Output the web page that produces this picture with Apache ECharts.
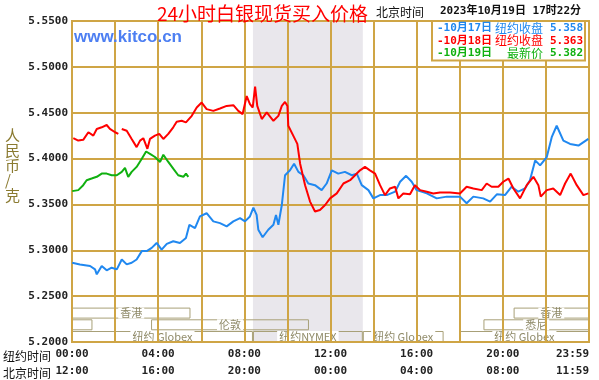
<!DOCTYPE html>
<html><head><meta charset="utf-8">
<script src="https://cdn.jsdelivr.net/npm/echarts@6/dist/echarts.min.js"></script>
<style>html,body{margin:0;padding:0;background:#fff}#c{width:599px;height:380px}</style>
</head><body><div id="c"></div>
<script>
// ---- data (hour of New York day, price CNY/gram) ----
const seriesNames = ['10月17日', '10月18日', '10月19日'];
const legendLabels = [['-10月17日', '纽约收盘', '5.358'], ['-10月18日', '纽约收盘', '5.363'], ['-10月19日', '最新价', '5.382']];
const silverOct17 = [[0.01,5.2864],[0.37,5.2846],[0.84,5.2829],[1.07,5.2792],[1.15,5.2738],[1.38,5.2829],[1.61,5.2781],[1.84,5.281],[2.08,5.2792],[2.31,5.29],[2.54,5.2846],[2.77,5.2864],[3.0,5.29],[3.24,5.2991],[3.47,5.2991],[3.7,5.3026],[3.93,5.308],[4.16,5.3008],[4.4,5.307],[4.7,5.3099],[5.01,5.308],[5.29,5.3134],[5.45,5.3278],[5.71,5.3242],[5.94,5.3369],[6.25,5.3404],[6.56,5.3315],[6.87,5.3296],[7.18,5.3261],[7.49,5.3315],[7.8,5.335],[8.03,5.3315],[8.26,5.3369],[8.42,5.3466],[8.57,5.3386],[8.65,5.3224],[8.85,5.3142],[9.11,5.3224],[9.35,5.3278],[9.47,5.3386],[9.58,5.3278],[9.74,5.3494],[9.89,5.3818],[10.12,5.3872],[10.31,5.3944],[10.51,5.3855],[10.74,5.3818],[10.97,5.3728],[11.28,5.371],[11.59,5.3656],[11.82,5.3728],[12.06,5.3872],[12.36,5.3836],[12.67,5.3855],[12.99,5.3818],[13.22,5.3836],[13.45,5.371],[13.76,5.3656],[13.99,5.3566],[14.3,5.3602],[14.61,5.3602],[15.0,5.3639],[15.23,5.3747],[15.51,5.3812],[15.77,5.3747],[16.0,5.3656],[16.47,5.362],[16.93,5.3566],[17.4,5.3585],[18.01,5.3585],[18.32,5.3512],[18.63,5.3585],[19.09,5.3566],[19.41,5.3531],[19.72,5.361],[20.1,5.3602],[20.41,5.3693],[20.72,5.3639],[21.03,5.3674],[21.26,5.3764],[21.5,5.398],[21.73,5.3926],[22.04,5.4017],[22.27,5.4233],[22.5,5.4358],[22.81,5.4196],[23.12,5.416],[23.51,5.4142],[23.97,5.4214]];
const silverOct18 = [[0.06,5.4222],[0.29,5.4196],[0.52,5.4204],[0.76,5.4287],[0.99,5.425],[1.15,5.4323],[1.38,5.4341],[1.61,5.4366],[1.76,5.4323],[2.0,5.4287],[2.15,5.4269],[2.22,null],[2.31,5.4323],[2.54,5.4304],[2.77,5.4214],[3.0,5.4125],[3.16,5.4196],[3.31,5.4222],[3.5,5.4106],[3.62,5.4214],[3.85,5.425],[4.05,5.4269],[4.24,5.4214],[4.47,5.4269],[4.7,5.4341],[4.86,5.4401],[5.09,5.4412],[5.29,5.4395],[5.56,5.4466],[5.79,5.4557],[6.02,5.4611],[6.25,5.4539],[6.56,5.452],[6.87,5.4546],[7.18,5.4574],[7.49,5.4582],[7.72,5.452],[7.92,5.4485],[8.11,5.4682],[8.26,5.4593],[8.39,5.4557],[8.5,5.4784],[8.6,5.4574],[8.81,5.4431],[9.04,5.4503],[9.35,5.4412],[9.58,5.4466],[9.74,5.4574],[9.89,5.4617],[10.0,5.4574],[10.04,5.4358],[10.27,5.425],[10.46,5.416],[10.59,5.3944],[10.82,5.371],[11.05,5.3531],[11.28,5.3423],[11.51,5.344],[11.75,5.3494],[11.98,5.3566],[12.29,5.362],[12.6,5.3728],[12.91,5.3764],[13.14,5.3818],[13.37,5.3872],[13.6,5.3909],[13.83,5.3872],[14.07,5.3836],[14.3,5.371],[14.53,5.3602],[14.76,5.3674],[15.0,5.3693],[15.15,5.3566],[15.38,5.362],[15.69,5.361],[15.92,5.371],[16.16,5.3656],[16.47,5.3639],[16.77,5.362],[17.08,5.3631],[17.55,5.3631],[18.01,5.362],[18.32,5.3693],[18.63,5.3674],[19.02,5.3656],[19.25,5.3728],[19.48,5.3693],[19.79,5.3693],[20.02,5.3747],[20.26,5.3782],[20.49,5.3674],[20.8,5.3566],[21.11,5.371],[21.42,5.3801],[21.65,5.371],[21.76,5.3585],[22.04,5.3656],[22.34,5.3674],[22.66,5.3602],[22.89,5.3728],[23.15,5.3836],[23.43,5.371],[23.74,5.3602],[23.97,5.362]];
const silverOct19 = [[0.01,5.3645],[0.29,5.3656],[0.52,5.371],[0.68,5.3764],[0.91,5.3782],[1.15,5.3801],[1.38,5.3836],[1.61,5.3836],[1.84,5.3818],[2.08,5.3818],[2.31,5.3855],[2.46,5.3898],[2.61,5.3801],[2.77,5.3855],[3.0,5.3909],[3.24,5.3998],[3.44,5.4077],[3.62,5.4052],[3.85,5.4017],[4.09,5.3963],[4.24,5.4042],[4.47,5.3963],[4.7,5.389],[4.93,5.3818],[5.17,5.3801],[5.29,5.3836],[5.4,5.3801]];
// tick labels (every 4 hours)
const nyTickLabels = ['00:00', '04:00', '08:00', '12:00', '16:00', '20:00', '23:59'];
const bjTickLabels = ['12:00', '16:00', '20:00', '00:00', '04:00', '08:00', '11:59'];
// trading sessions (start hour, end hour, row, name)
const sessionNames = ['香港', '香港', '悉尼', '', '伦敦', '纽约 Globex', '纽约NYMEX', '纽约 Globex', '纽约 Globex'];
const sessionStart = [0, 20.5, 19.1, 0, 3.67, 0, 8.4, 13.5, 18.0];
const sessionEnd = [5.5, 24, 24, 0.95, 11.0, 8.4, 13.5, 17.25, 24];
const sessionRow = [2, 2, 1, 1, 1, 0, 0, 0, 0];
const pitHours = [8.4, 13.5];

const colors = ['#2088f0', '#ff0000', '#10b010'];
const gold = '#cfa545';
const chart = echarts.init(document.getElementById('c'), null, {renderer: 'canvas'});

const sessionData = sessionNames.map((n, i) => [sessionStart[i], sessionEnd[i], sessionRow[i], n]);

const option = {
  backgroundColor: '#ffffff',
  animation: false,
  title: {
    text: '24小时白银现货买入价格', left: 152, top: -1,
    textStyle: {color: '#ff0000', fontSize: 19, fontWeight: 'normal', fontFamily: 'Noto Sans CJK SC'}
  },
  graphic: [
    {type: 'text', left: 376, top: 6, style: {text: '北京时间', fill: '#111', font: '12px "Noto Sans CJK SC"'}},
    {type: 'text', left: 440, top: 6, style: {text: '2023年10月19日 17时22分', fill: '#111', font: 'bold 11px "DejaVu Sans Mono", "Noto Sans CJK SC"'}},
    {type: 'text', left: 74, top: 29, z: 10, style: {text: 'www.kitco.cn', fill: '#4d7ff2', font: 'bold 17px "Liberation Sans", Arial'}},
    {type: 'text', left: 3, top: 350, style: {text: '纽约时间', fill: '#111', font: '12px "Noto Sans CJK SC"'}},
    {type: 'text', left: 3, top: 367, style: {text: '北京时间', fill: '#111', font: '12px "Noto Sans CJK SC"'}},
    {type: 'text', left: 5, top: 128, style: {text: '人\n民\n币\n/\n克', fill: '#8a7a30', font: '15px "Noto Sans CJK SC"', lineHeight: 15, align: 'center'}}
  ],
  legend: {
    orient: 'vertical', left: 432, top: 21, itemGap: 0, icon: 'none', itemWidth: 0, itemHeight: 0,
    selectedMode: false, backgroundColor: '#ffffff', borderColor: gold, borderWidth: 2, padding: [1, 2, 1, 0],
    data: seriesNames.map((n, i) => ({name: n, textStyle: {color: colors[i]}})),
    formatter: function (name) {
      const l = legendLabels[seriesNames.indexOf(name)];
      return '{d|' + l[0] + '}{m|' + l[1] + '}{v|' + l[2] + '}';
    },
    textStyle: {
      fontSize: 12, lineHeight: 12.5,
      rich: {
        d: {width: 60, fontFamily: '"DejaVu Sans Mono", "Noto Sans CJK SC"', fontWeight: 'bold', fontSize: 11},
        m: {width: 46, align: 'right', fontFamily: 'Noto Sans CJK SC', fontSize: 12},
        v: {width: 40, align: 'right', fontFamily: '"DejaVu Sans Mono"', fontWeight: 'bold', fontSize: 11}
      }
    }
  },
  grid: {left: 72, right: 10, top: 21, bottom: 35, show: true, borderColor: gold, borderWidth: 2, backgroundColor: 'transparent', z: 1.6},
  xAxis: {
    type: 'value', min: 0, max: 24, interval: 2, z: 1.5,
    axisLine: {show: false}, axisTick: {show: false},
    splitLine: {show: true, lineStyle: {color: gold, width: 2}},
    axisLabel: {
      margin: 4, lineHeight: 17, color: '#222', fontFamily: 'DejaVu Sans Mono', fontWeight: 'bold', fontSize: 11,
      alignMaxLabel: 'right',
      formatter: function (v) {
        if (v % 4 !== 0) return '';
        const k = v / 4;
        return nyTickLabels[k] + '\n' + bjTickLabels[k];
      }
    }
  },
  yAxis: {
    type: 'value', min: 5.2, max: 5.55, interval: 0.05, z: 1.5,
    axisLine: {show: false}, axisTick: {show: false},
    splitLine: {show: true, lineStyle: {color: gold, width: 2}},
    axisLabel: {margin: 4, color: '#222', fontFamily: 'DejaVu Sans Mono', fontWeight: 'bold', fontSize: 11,
      formatter: v => v.toFixed(4)}
  },
  series: [
    {
      type: 'custom', name: 'sessions', z: 1, silent: true, clip: false,
      data: sessionData,
      encode: {x: [0, 1], y: []},
      renderItem: function (params, api) {
        const x0 = api.coord([api.value(0), 5.2])[0];
        const x1 = api.coord([api.value(1), 5.2])[0];
        const yb = api.coord([0, 5.2])[1];
        const row = api.value(2);
        const bottom = yb - row * 11.7;
        const top = bottom - 11;
        const name = sessionData[params.dataIndex][3];
        const children = [
          {type: 'rect', shape: {x: x0 + 0.5, y: top + 0.5, width: x1 - x0 - 1, height: bottom - top - 1},
            style: {fill: null, stroke: '#a8a078', lineWidth: 1}}
        ];
        if (name) {
          children.push({type: 'text', x: (x0 + x1) / 2, y: top + 5.5,
            style: {text: name, fill: '#8f8a68', font: '11px "Noto Sans CJK SC", "Liberation Sans"',
              align: 'center', verticalAlign: 'middle', backgroundColor: '#ffffff', padding: [0, 2]}});
        }
        return {type: 'group', children: children};
      },
      markArea: {
        silent: true, z: 0.5,
        itemStyle: {color: '#e9e7ec'},
        data: [[{xAxis: pitHours[0]}, {xAxis: pitHours[1]}]]
      }
    },
    {type: 'line', name: seriesNames[0], data: silverOct17, showSymbol: false, connectNulls: false, z: 3,
      lineStyle: {color: colors[0], width: 2}, itemStyle: {color: colors[0]}},
    {type: 'line', name: seriesNames[1], data: silverOct18, showSymbol: false, connectNulls: false, z: 3,
      lineStyle: {color: colors[1], width: 2}, itemStyle: {color: colors[1]}},
    {type: 'line', name: seriesNames[2], data: silverOct19, showSymbol: false, connectNulls: false, z: 3,
      lineStyle: {color: colors[2], width: 2}, itemStyle: {color: colors[2]}}
  ]
};
chart.setOption(option);
</script></body></html>
